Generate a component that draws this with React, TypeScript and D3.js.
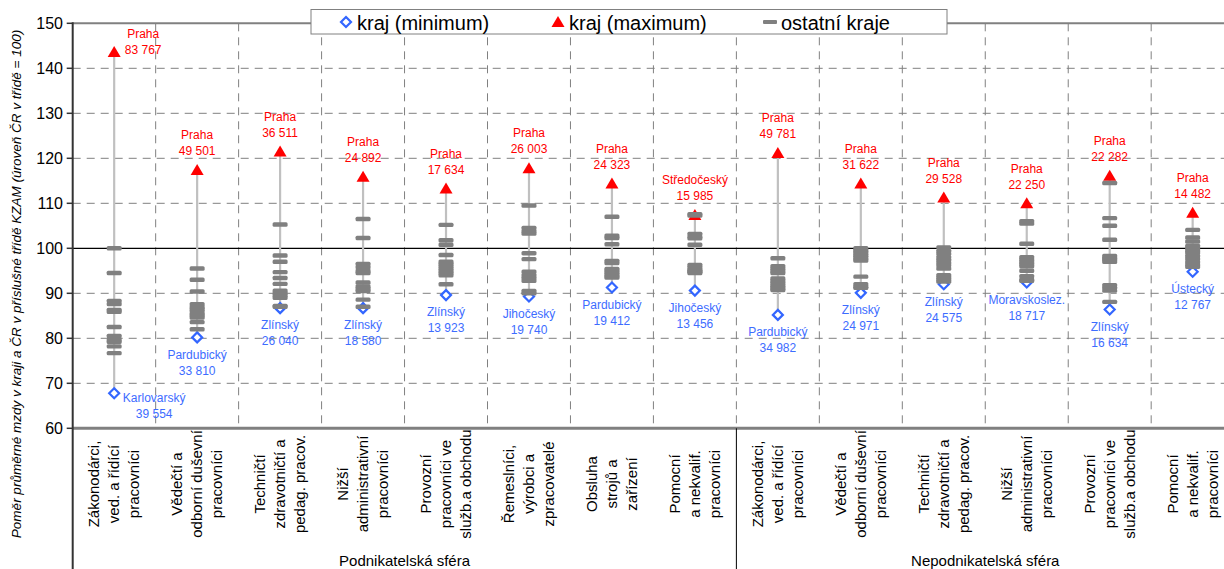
import React from 'react';
import * as d3 from 'd3';

// category labels (3 lines each, drawn rotated)
const categories: string[][] = [
  ['Zákonodárci,', 'ved. a řídící', 'pracovníci'],
  ['Vědečtí a', 'odborní duševní', 'pracovníci'],
  ['Techničtí', 'zdravotničtí a', 'pedag. pracov.'],
  ['Nižší', 'administrativní', 'pracovníci'],
  ['Provozní', 'pracovníci ve', 'služb.a obchodu'],
  ['Řemeslníci,', 'výrobci a', 'zpracovatelé'],
  ['Obsluha', 'strojů a', 'zařízení'],
  ['Pomocní', 'a nekvalif.', 'pracovníci'],
  ['Zákonodárci,', 'ved. a řídící', 'pracovníci'],
  ['Vědečtí a', 'odborní duševní', 'pracovníci'],
  ['Techničtí', 'zdravotničtí a', 'pedag. pracov.'],
  ['Nižší', 'administrativní', 'pracovníci'],
  ['Provozní', 'pracovníci ve', 'služb.a obchodu'],
  ['Pomocní', 'a nekvalif.', 'pracovníci'],
];

const groups = ['Podnikatelská sféra', 'Nepodnikatelská sféra'];
const groupSizes = [8, 6];

const maxValues = [143.6, 117.4, 121.5, 115.9, 113.3, 117.8, 114.4, 107.4, 121.2, 114.4, 111.3, 110.0, 116.1, 107.9];
const maxRegions = ['Praha', 'Praha', 'Praha', 'Praha', 'Praha', 'Praha', 'Praha', 'Středočeský', 'Praha', 'Praha', 'Praha', 'Praha', 'Praha', 'Praha'];
const maxWages = ['83 767', '49 501', '36 511', '24 892', '17 634', '26 003', '24 323', '15 985', '49 781', '31 622', '29 528', '22 250', '22 282', '14 482'];

const minValues = [67.8, 80.2, 86.7, 86.7, 89.6, 89.3, 91.3, 90.6, 85.2, 90.1, 92.0, 92.4, 86.4, 94.8];
const minRegions = ['Karlovarský', 'Pardubický', 'Zlínský', 'Zlínský', 'Zlínský', 'Jihočeský', 'Pardubický', 'Jihočeský', 'Pardubický', 'Zlínský', 'Zlínský', 'Moravskoslez.', 'Zlínský', 'Ústecký'];
const minWages = ['39 554', '33 810', '26 040', '18 580', '13 923', '19 740', '19 412', '13 456', '34 982', '24 971', '24 575', '18 717', '16 634', '12 767'];

// the other 12 regions in each category
const otherValues: number[][] = [
  [100.0, 94.5, 88.3, 87.6, 86.3, 85.9, 82.5, 80.5, 79.7, 79.2, 78.2, 76.7],
  [95.5, 93.0, 90.4, 87.6, 87.0, 86.5, 86.0, 85.4, 85.0, 84.6, 83.6, 82.0],
  [105.3, 98.4, 97.0, 94.7, 93.4, 92.1, 90.6, 90.0, 89.5, 89.0, 87.2, 87.0],
  [106.5, 102.3, 96.5, 95.8, 95.0, 94.5, 92.4, 91.5, 91.0, 90.5, 88.6, 87.0],
  [105.2, 101.8, 100.8, 98.5, 97.0, 96.5, 96.0, 95.5, 95.0, 94.5, 94.0, 92.0],
  [109.5, 104.5, 103.8, 103.3, 98.9, 97.6, 94.8, 94.0, 93.4, 92.8, 90.5, 90.0],
  [107.0, 102.8, 102.3, 100.9, 97.2, 96.7, 95.4, 95.0, 94.6, 94.2, 93.8, 93.5],
  [107.6, 107.3, 103.2, 102.6, 102.2, 100.8, 96.3, 95.8, 95.3, 95.0, 94.8, 94.5],
  [97.8, 96.0, 95.5, 95.0, 94.5, 93.3, 92.8, 92.3, 91.8, 91.4, 91.0, 90.7],
  [100.0, 99.6, 99.2, 98.8, 98.4, 98.0, 97.6, 97.3, 93.7, 92.0, 91.5, 91.2],
  [100.2, 99.4, 98.8, 98.0, 97.4, 96.8, 96.2, 95.5, 94.0, 93.5, 93.0, 92.6],
  [106.0, 105.5, 101.0, 98.0, 97.5, 97.0, 96.5, 96.0, 95.0, 93.8, 93.0, 92.8],
  [114.5, 106.7, 105.0, 101.9, 98.3, 97.8, 97.5, 97.0, 91.8, 91.2, 90.6, 88.1],
  [104.1, 102.4, 101.5, 100.5, 100.0, 99.5, 99.0, 98.3, 97.7, 97.0, 96.4, 95.9],
];

const yTicks = [60, 70, 80, 90, 100, 110, 120, 130, 140, 150];
const yTitle = 'Poměr průměrné mzdy v kraji a ČR v příslušné třídě KZAM (úroveň ČR v třídě = 100)';
const legendLabels = ['kraj (minimum)', 'kraj (maximum)', 'ostatní kraje'];

const W = 1224;
const H = 569;
const left = 72.7;
const step = 82.96;
const right = left + step * categories.length;
const top = 23.3;
const bottom = 428.3;

const FONT = '"Liberation Sans", Arial, sans-serif';
const RED = '#ff0000';
const BLUE = '#3366ff';
const BLUE_TEXT = '#3d6cff';
const GRAY = '#808080';

const triangle = 'M0,-6L6.5,5L-6.5,5Z';
const diamond = 'M0,-5L5,0L0,5L-5,0Z';

export default function App() {
  document.body.style.margin = '0';

  const x = d3.scaleBand<number>().domain(d3.range(categories.length)).range([left, right]).padding(0);
  const cx = (i: number) => (x(i) as number) + x.bandwidth() / 2;
  const y = d3.scaleLinear().domain([60, 150]).range([bottom, top]);

  const groupEdges = [0, ...d3.cumsum(groupSizes)];

  return (
    <svg width={W} height={H} style={{ display: 'block', fontFamily: FONT }}>
      <rect width={W} height={H} fill="#fff" />

      {/* horizontal grid */}
      {yTicks.filter(t => t !== 60 && t !== 150 && t !== 100).map(t => (
        <line key={'h' + t} x1={left} x2={right} y1={y(t)} y2={y(t)} stroke={GRAY} strokeWidth={1} strokeDasharray="8,6" />
      ))}
      {/* vertical grid */}
      {d3.range(1, categories.length).map(i => (
        <line key={'v' + i} x1={x(i)} x2={x(i)} y1={top} y2={bottom} stroke={GRAY} strokeWidth={1} strokeDasharray="8,6" />
      ))}
      <line x1={left} x2={right} y1={y(100)} y2={y(100)} stroke="#000" strokeWidth={1.2} />

      {/* frame */}
      <line x1={left} x2={right} y1={top} y2={top} stroke={GRAY} strokeWidth={2} />
      <line x1={left} x2={right} y1={bottom} y2={bottom} stroke={GRAY} strokeWidth={3} />
      <line x1={left} x2={left} y1={top - 1} y2={H} stroke="#333" strokeWidth={2} />
      {groupEdges.slice(1).map(e => (
        <line key={'g' + e} x1={left + e * step} x2={left + e * step} y1={bottom} y2={H} stroke="#000" strokeWidth={1} />
      ))}

      {/* y axis ticks */}
      {yTicks.map(t => (
        <g key={'t' + t}>
          <line x1={left - 6} x2={left} y1={y(t)} y2={y(t)} stroke="#333" strokeWidth={1.5} />
          <text x={63} y={y(t)} dy="0.35em" textAnchor="end" fontSize={16} fill="#000">{t}</text>
        </g>
      ))}
      <text transform={`translate(21,284) rotate(-90)`} textAnchor="middle" fontSize={13.5} fontStyle="italic" fill="#000">{yTitle}</text>

      {/* range lines */}
      {categories.map((_, i) => (
        <line key={'r' + i} x1={cx(i)} x2={cx(i)} y1={y(maxValues[i])} y2={y(minValues[i])} stroke="#c0c0c0" strokeWidth={2.2} />
      ))}
      {/* minimum */}
      {minValues.map((v, i) => (
        <path key={'mn' + i} d={diamond} transform={`translate(${cx(i)},${y(v)})`} fill="#fff" stroke={BLUE} strokeWidth={2.2} />
      ))}
      {/* maximum */}
      {maxValues.map((v, i) => (
        <path key={'mx' + i} d={triangle} transform={`translate(${cx(i)},${y(v)})`} fill={RED} />
      ))}
      {/* other regions */}
      {otherValues.map((vals, i) => vals.map((v, j) => (
        <rect key={'o' + i + '-' + j} x={cx(i) - 7.5} y={y(v) - 2.2} width={15} height={4.4} rx={1.5} fill={GRAY} />
      )))}

      {/* max labels */}
      {maxValues.map((v, i) => {
        const first = i === 0;
        const lx = first ? cx(i) + 29 : cx(i);
        const ly = first ? y(v) - 2 : y(v) - 19;
        return (
          <g key={'ml' + i} fill={RED} fontSize={12} textAnchor="middle">
            <text x={lx} y={ly - 16} dy="0.35em">{maxRegions[i]}</text>
            <text x={lx} y={ly} dy="0.35em">{maxWages[i]}</text>
          </g>
        );
      })}
      {/* min labels */}
      {minValues.map((v, i) => {
        const first = i === 0;
        const lx = first ? cx(i) + 40 : cx(i);
        const ly = first ? y(v) + 5 : y(v) + 17;
        return (
          <g key={'nl' + i} fill={BLUE_TEXT} fontSize={12} textAnchor="middle">
            <text x={lx} y={ly} dy="0.35em">{minRegions[i]}</text>
            <text x={lx} y={ly + 16} dy="0.35em">{minWages[i]}</text>
          </g>
        );
      })}

      {/* category labels */}
      {categories.map((lines, i) => (
        <g key={'c' + i}>
          {lines.map((ln, k) => (
            <text key={k} transform={`translate(${cx(i) + (k - 1) * 20},484) rotate(-90)`} dy="0.35em" textAnchor="middle" fontSize={15} fill="#000">{ln}</text>
          ))}
        </g>
      ))}
      {groups.map((g, gi) => (
        <text key={g} x={left + ((groupEdges[gi] + groupEdges[gi + 1]) / 2) * step} y={566} textAnchor="middle" fontSize={15} fill="#000">{g}</text>
      ))}

      {/* legend */}
      <g>
        <rect x={311} y={9.5} width={636} height={24.5} fill="#fff" stroke={GRAY} strokeWidth={1} />
        <path d={diamond} transform="translate(346,22)" fill="#fff" stroke={BLUE} strokeWidth={2.2} />
        <text x={357} y={29.5} fontSize={20} fill="#000">{legendLabels[0]}</text>
        <path d={triangle} transform="translate(558,22)" fill={RED} />
        <text x={569} y={29.5} fontSize={20} fill="#000">{legendLabels[1]}</text>
        <rect x={763} y={20} width={14} height={4} rx={1} fill={GRAY} />
        <text x={781} y={29.5} fontSize={20} fill="#000">{legendLabels[2]}</text>
      </g>
    </svg>
  );
}
